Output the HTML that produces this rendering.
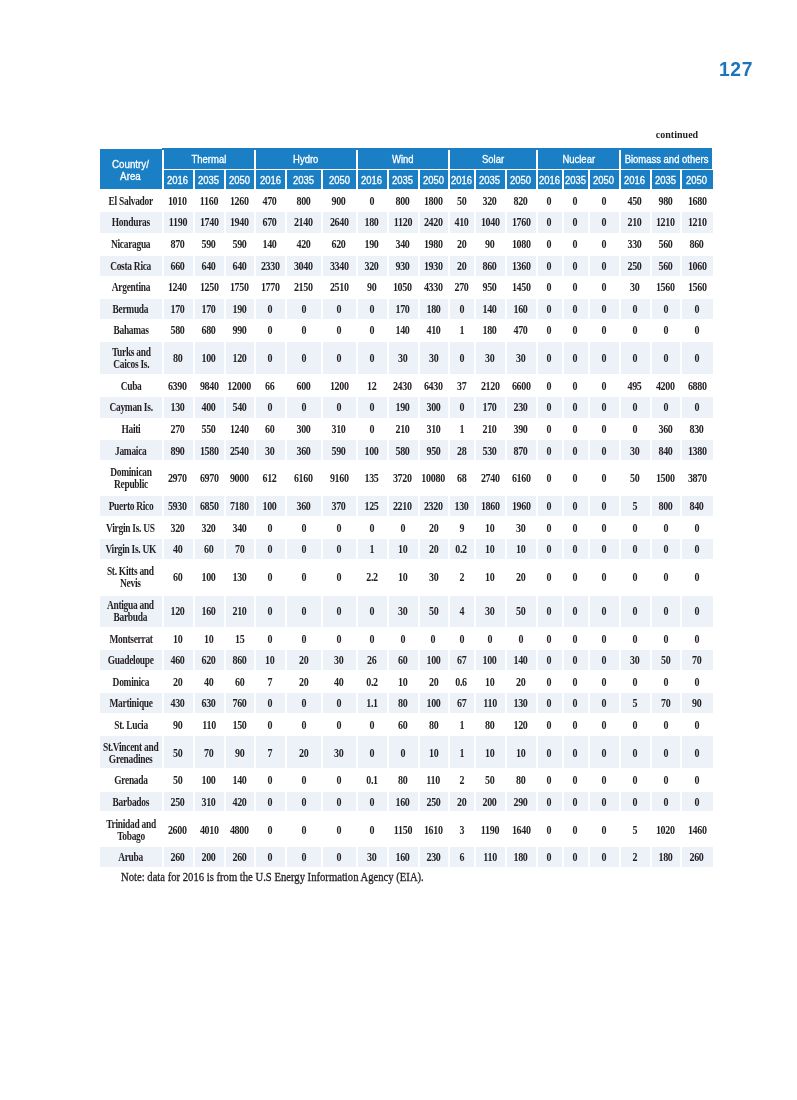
<!DOCTYPE html>
<html lang="en"><head><meta charset="utf-8"><title>Page 127</title>
<style>
html,body{margin:0;padding:0;background:#fff;}
body{width:797px;height:1100px;position:relative;overflow:hidden;font-family:"Liberation Serif",serif;color:#231f20;}
.c{position:absolute;display:flex;align-items:center;justify-content:center;text-align:center;white-space:nowrap;}
.h{background:#1a7fc4;color:#fff;-webkit-text-stroke:0.3px #fff;font-family:"Liberation Sans",sans-serif;font-size:10.3px;line-height:12px;}
.h span{display:inline-block;position:relative;transform:scaleX(.92);}
.d{font-size:12px;font-weight:bold;line-height:12px;}
.n{font-size:11.8px;}
.v span{left:-0.5px;}
.d span{display:inline-block;position:relative;letter-spacing:-.36px;padding-right:.36px;transform:scaleX(.835);}
.n span{transform:scaleX(.80);}
.s{background:#edf2f9;}
.pn{position:absolute;left:719px;top:59px;letter-spacing:.6px;font-family:"Liberation Sans",sans-serif;font-weight:bold;font-size:19.3px;line-height:22px;color:#1b75bc;}
.cont{position:absolute;left:640px;top:128px;width:74px;font-size:10.9px;font-weight:bold;line-height:13px;text-align:center;}
.cont span{display:inline-block;transform:scaleX(.92);}
.note{position:absolute;left:121px;top:870px;font-size:12.4px;-webkit-text-stroke:0.3px #231f20;line-height:14px;white-space:nowrap;}
.note span{display:inline-block;transform:scaleX(.859);transform-origin:0 50%;}
</style></head><body>
<div class="pn">127</div>
<div class="cont"><span>continued</span></div>
<div style="position:absolute;left:162px;top:147.9px;width:550.2px;height:2.1px;background:#1a7fc4"></div>
<div class="c h" style="left:100.00px;top:148.90px;width:61.90px;height:39.80px"><span style="transform:scaleX(.95);top:2.600px">Country/<br>Area</span></div>
<div class="c h" style="left:163.80px;top:148.40px;width:90.00px;height:20.30px"><span style="top:1.300px">Thermal</span></div>
<div class="c h" style="left:163.80px;top:170.30px;width:29.10px;height:18.40px"><span style="left:-0.95px;top:1.400px">2016</span></div>
<div class="c h" style="left:195.20px;top:170.30px;width:28.80px;height:18.40px"><span style="left:-1.10px;top:1.400px">2035</span></div>
<div class="c h" style="left:226.20px;top:170.30px;width:27.60px;height:18.40px"><span style="left:-0.60px;top:1.400px">2050</span></div>
<div class="c h" style="left:256.10px;top:148.40px;width:99.90px;height:20.30px"><span style="top:1.300px">Hydro</span></div>
<div class="c h" style="left:256.10px;top:170.30px;width:28.80px;height:18.40px"><span style="left:0.10px;top:1.400px">2016</span></div>
<div class="c h" style="left:287.20px;top:170.30px;width:33.70px;height:18.40px"><span style="left:-0.35px;top:1.400px">2035</span></div>
<div class="c h" style="left:323.20px;top:170.30px;width:32.80px;height:18.40px"><span style="left:-0.60px;top:1.400px">2050</span></div>
<div class="c h" style="left:358.10px;top:148.40px;width:89.75px;height:20.30px"><span style="top:1.300px">Wind</span></div>
<div class="c h" style="left:358.10px;top:170.30px;width:28.60px;height:18.40px"><span style="left:-0.80px;top:1.400px">2016</span></div>
<div class="c h" style="left:389.00px;top:170.30px;width:28.80px;height:18.40px"><span style="left:-0.70px;top:1.400px">2035</span></div>
<div class="c h" style="left:420.10px;top:170.30px;width:27.75px;height:18.40px"><span style="left:-0.50px;top:1.400px">2050</span></div>
<div class="c h" style="left:450.10px;top:148.40px;width:85.70px;height:20.30px"><span style="top:1.300px">Solar</span></div>
<div class="c h" style="left:450.10px;top:170.30px;width:23.85px;height:18.40px"><span style="left:-0.30px;top:1.400px">2016</span></div>
<div class="c h" style="left:476.20px;top:170.30px;width:28.65px;height:18.40px"><span style="left:-0.70px;top:1.400px">2035</span></div>
<div class="c h" style="left:507.15px;top:170.30px;width:28.65px;height:18.40px"><span style="left:-0.80px;top:1.400px">2050</span></div>
<div class="c h" style="left:538.00px;top:148.40px;width:80.90px;height:20.30px"><span style="top:1.300px">Nuclear</span></div>
<div class="c h" style="left:538.00px;top:170.30px;width:23.90px;height:18.40px"><span style="left:-0.20px;top:1.400px">2016</span></div>
<div class="c h" style="left:564.20px;top:170.30px;width:23.60px;height:18.40px"><span style="left:-0.10px;top:1.400px">2035</span></div>
<div class="c h" style="left:590.00px;top:170.30px;width:28.90px;height:18.40px"><span style="left:-0.80px;top:1.400px">2050</span></div>
<div class="c h" style="left:621.15px;top:148.40px;width:91.05px;height:20.30px"><span style="top:1.300px">Biomass and others</span></div>
<div class="c h" style="left:621.15px;top:170.30px;width:28.75px;height:18.40px"><span style="left:-0.80px;top:1.400px">2016</span></div>
<div class="c h" style="left:652.15px;top:170.30px;width:28.05px;height:18.40px"><span style="left:-0.50px;top:1.400px">2035</span></div>
<div class="c h" style="left:682.20px;top:170.30px;width:30.60px;height:18.40px"><span style="left:-1.00px;top:1.400px">2050</span></div>
<div class="c d n" style="left:100.00px;top:190.00px;width:61.90px;height:21.00px"><span style="top:0.500px">El Salvador</span></div>
<div class="c d v" style="left:163.80px;top:190.00px;width:29.10px;height:21.00px"><span style="top:0.500px">1010</span></div>
<div class="c d v" style="left:195.20px;top:190.00px;width:28.80px;height:21.00px"><span style="top:0.500px">1160</span></div>
<div class="c d v" style="left:226.20px;top:190.00px;width:27.60px;height:21.00px"><span style="top:0.500px">1260</span></div>
<div class="c d v" style="left:256.10px;top:190.00px;width:28.80px;height:21.00px"><span style="top:0.500px">470</span></div>
<div class="c d v" style="left:287.20px;top:190.00px;width:33.70px;height:21.00px"><span style="top:0.500px">800</span></div>
<div class="c d v" style="left:323.20px;top:190.00px;width:32.80px;height:21.00px"><span style="top:0.500px">900</span></div>
<div class="c d v" style="left:358.10px;top:190.00px;width:28.60px;height:21.00px"><span style="top:0.500px">0</span></div>
<div class="c d v" style="left:389.00px;top:190.00px;width:28.80px;height:21.00px"><span style="top:0.500px">800</span></div>
<div class="c d v" style="left:420.10px;top:190.00px;width:27.75px;height:21.00px"><span style="top:0.500px">1800</span></div>
<div class="c d v" style="left:450.10px;top:190.00px;width:23.85px;height:21.00px"><span style="top:0.500px">50</span></div>
<div class="c d v" style="left:476.20px;top:190.00px;width:28.65px;height:21.00px"><span style="top:0.500px">320</span></div>
<div class="c d v" style="left:507.15px;top:190.00px;width:28.65px;height:21.00px"><span style="top:0.500px">820</span></div>
<div class="c d v" style="left:538.00px;top:190.00px;width:23.90px;height:21.00px"><span style="top:0.500px">0</span></div>
<div class="c d v" style="left:564.20px;top:190.00px;width:23.60px;height:21.00px"><span style="top:0.500px">0</span></div>
<div class="c d v" style="left:590.00px;top:190.00px;width:28.90px;height:21.00px"><span style="top:0.500px">0</span></div>
<div class="c d v" style="left:621.15px;top:190.00px;width:28.75px;height:21.00px"><span style="top:0.500px">450</span></div>
<div class="c d v" style="left:652.15px;top:190.00px;width:28.05px;height:21.00px"><span style="top:0.500px">980</span></div>
<div class="c d v" style="left:682.20px;top:190.00px;width:30.60px;height:21.00px"><span style="top:0.500px">1680</span></div>
<div class="c d s n" style="left:100.00px;top:212.35px;width:61.90px;height:20.35px"><span style="top:-0.525px">Honduras</span></div>
<div class="c d s v" style="left:163.80px;top:212.35px;width:29.10px;height:20.35px"><span style="top:-0.525px">1190</span></div>
<div class="c d s v" style="left:195.20px;top:212.35px;width:28.80px;height:20.35px"><span style="top:-0.525px">1740</span></div>
<div class="c d s v" style="left:226.20px;top:212.35px;width:27.60px;height:20.35px"><span style="top:-0.525px">1940</span></div>
<div class="c d s v" style="left:256.10px;top:212.35px;width:28.80px;height:20.35px"><span style="top:-0.525px">670</span></div>
<div class="c d s v" style="left:287.20px;top:212.35px;width:33.70px;height:20.35px"><span style="top:-0.525px">2140</span></div>
<div class="c d s v" style="left:323.20px;top:212.35px;width:32.80px;height:20.35px"><span style="top:-0.525px">2640</span></div>
<div class="c d s v" style="left:358.10px;top:212.35px;width:28.60px;height:20.35px"><span style="top:-0.525px">180</span></div>
<div class="c d s v" style="left:389.00px;top:212.35px;width:28.80px;height:20.35px"><span style="top:-0.525px">1120</span></div>
<div class="c d s v" style="left:420.10px;top:212.35px;width:27.75px;height:20.35px"><span style="top:-0.525px">2420</span></div>
<div class="c d s v" style="left:450.10px;top:212.35px;width:23.85px;height:20.35px"><span style="top:-0.525px">410</span></div>
<div class="c d s v" style="left:476.20px;top:212.35px;width:28.65px;height:20.35px"><span style="top:-0.525px">1040</span></div>
<div class="c d s v" style="left:507.15px;top:212.35px;width:28.65px;height:20.35px"><span style="top:-0.525px">1760</span></div>
<div class="c d s v" style="left:538.00px;top:212.35px;width:23.90px;height:20.35px"><span style="top:-0.525px">0</span></div>
<div class="c d s v" style="left:564.20px;top:212.35px;width:23.60px;height:20.35px"><span style="top:-0.525px">0</span></div>
<div class="c d s v" style="left:590.00px;top:212.35px;width:28.90px;height:20.35px"><span style="top:-0.525px">0</span></div>
<div class="c d s v" style="left:621.15px;top:212.35px;width:28.75px;height:20.35px"><span style="top:-0.525px">210</span></div>
<div class="c d s v" style="left:652.15px;top:212.35px;width:28.05px;height:20.35px"><span style="top:-0.525px">1210</span></div>
<div class="c d s v" style="left:682.20px;top:212.35px;width:30.60px;height:20.35px"><span style="top:-0.525px">1210</span></div>
<div class="c d n" style="left:100.00px;top:234.00px;width:61.90px;height:20.20px"><span style="top:-0.100px">Nicaragua</span></div>
<div class="c d v" style="left:163.80px;top:234.00px;width:29.10px;height:20.20px"><span style="top:-0.100px">870</span></div>
<div class="c d v" style="left:195.20px;top:234.00px;width:28.80px;height:20.20px"><span style="top:-0.100px">590</span></div>
<div class="c d v" style="left:226.20px;top:234.00px;width:27.60px;height:20.20px"><span style="top:-0.100px">590</span></div>
<div class="c d v" style="left:256.10px;top:234.00px;width:28.80px;height:20.20px"><span style="top:-0.100px">140</span></div>
<div class="c d v" style="left:287.20px;top:234.00px;width:33.70px;height:20.20px"><span style="top:-0.100px">420</span></div>
<div class="c d v" style="left:323.20px;top:234.00px;width:32.80px;height:20.20px"><span style="top:-0.100px">620</span></div>
<div class="c d v" style="left:358.10px;top:234.00px;width:28.60px;height:20.20px"><span style="top:-0.100px">190</span></div>
<div class="c d v" style="left:389.00px;top:234.00px;width:28.80px;height:20.20px"><span style="top:-0.100px">340</span></div>
<div class="c d v" style="left:420.10px;top:234.00px;width:27.75px;height:20.20px"><span style="top:-0.100px">1980</span></div>
<div class="c d v" style="left:450.10px;top:234.00px;width:23.85px;height:20.20px"><span style="top:-0.100px">20</span></div>
<div class="c d v" style="left:476.20px;top:234.00px;width:28.65px;height:20.20px"><span style="top:-0.100px">90</span></div>
<div class="c d v" style="left:507.15px;top:234.00px;width:28.65px;height:20.20px"><span style="top:-0.100px">1080</span></div>
<div class="c d v" style="left:538.00px;top:234.00px;width:23.90px;height:20.20px"><span style="top:-0.100px">0</span></div>
<div class="c d v" style="left:564.20px;top:234.00px;width:23.60px;height:20.20px"><span style="top:-0.100px">0</span></div>
<div class="c d v" style="left:590.00px;top:234.00px;width:28.90px;height:20.20px"><span style="top:-0.100px">0</span></div>
<div class="c d v" style="left:621.15px;top:234.00px;width:28.75px;height:20.20px"><span style="top:-0.100px">330</span></div>
<div class="c d v" style="left:652.15px;top:234.00px;width:28.05px;height:20.20px"><span style="top:-0.100px">560</span></div>
<div class="c d v" style="left:682.20px;top:234.00px;width:30.60px;height:20.20px"><span style="top:-0.100px">860</span></div>
<div class="c d s n" style="left:100.00px;top:255.50px;width:61.90px;height:20.10px"><span style="top:0.450px">Costa Rica</span></div>
<div class="c d s v" style="left:163.80px;top:255.50px;width:29.10px;height:20.10px"><span style="top:0.450px">660</span></div>
<div class="c d s v" style="left:195.20px;top:255.50px;width:28.80px;height:20.10px"><span style="top:0.450px">640</span></div>
<div class="c d s v" style="left:226.20px;top:255.50px;width:27.60px;height:20.10px"><span style="top:0.450px">640</span></div>
<div class="c d s v" style="left:256.10px;top:255.50px;width:28.80px;height:20.10px"><span style="top:0.450px">2330</span></div>
<div class="c d s v" style="left:287.20px;top:255.50px;width:33.70px;height:20.10px"><span style="top:0.450px">3040</span></div>
<div class="c d s v" style="left:323.20px;top:255.50px;width:32.80px;height:20.10px"><span style="top:0.450px">3340</span></div>
<div class="c d s v" style="left:358.10px;top:255.50px;width:28.60px;height:20.10px"><span style="top:0.450px">320</span></div>
<div class="c d s v" style="left:389.00px;top:255.50px;width:28.80px;height:20.10px"><span style="top:0.450px">930</span></div>
<div class="c d s v" style="left:420.10px;top:255.50px;width:27.75px;height:20.10px"><span style="top:0.450px">1930</span></div>
<div class="c d s v" style="left:450.10px;top:255.50px;width:23.85px;height:20.10px"><span style="top:0.450px">20</span></div>
<div class="c d s v" style="left:476.20px;top:255.50px;width:28.65px;height:20.10px"><span style="top:0.450px">860</span></div>
<div class="c d s v" style="left:507.15px;top:255.50px;width:28.65px;height:20.10px"><span style="top:0.450px">1360</span></div>
<div class="c d s v" style="left:538.00px;top:255.50px;width:23.90px;height:20.10px"><span style="top:0.450px">0</span></div>
<div class="c d s v" style="left:564.20px;top:255.50px;width:23.60px;height:20.10px"><span style="top:0.450px">0</span></div>
<div class="c d s v" style="left:590.00px;top:255.50px;width:28.90px;height:20.10px"><span style="top:0.450px">0</span></div>
<div class="c d s v" style="left:621.15px;top:255.50px;width:28.75px;height:20.10px"><span style="top:0.450px">250</span></div>
<div class="c d s v" style="left:652.15px;top:255.50px;width:28.05px;height:20.10px"><span style="top:0.450px">560</span></div>
<div class="c d s v" style="left:682.20px;top:255.50px;width:30.60px;height:20.10px"><span style="top:0.450px">1060</span></div>
<div class="c d n" style="left:100.00px;top:277.00px;width:61.90px;height:20.20px"><span style="top:-0.100px">Argentina</span></div>
<div class="c d v" style="left:163.80px;top:277.00px;width:29.10px;height:20.20px"><span style="top:-0.100px">1240</span></div>
<div class="c d v" style="left:195.20px;top:277.00px;width:28.80px;height:20.20px"><span style="top:-0.100px">1250</span></div>
<div class="c d v" style="left:226.20px;top:277.00px;width:27.60px;height:20.20px"><span style="top:-0.100px">1750</span></div>
<div class="c d v" style="left:256.10px;top:277.00px;width:28.80px;height:20.20px"><span style="top:-0.100px">1770</span></div>
<div class="c d v" style="left:287.20px;top:277.00px;width:33.70px;height:20.20px"><span style="top:-0.100px">2150</span></div>
<div class="c d v" style="left:323.20px;top:277.00px;width:32.80px;height:20.20px"><span style="top:-0.100px">2510</span></div>
<div class="c d v" style="left:358.10px;top:277.00px;width:28.60px;height:20.20px"><span style="top:-0.100px">90</span></div>
<div class="c d v" style="left:389.00px;top:277.00px;width:28.80px;height:20.20px"><span style="top:-0.100px">1050</span></div>
<div class="c d v" style="left:420.10px;top:277.00px;width:27.75px;height:20.20px"><span style="top:-0.100px">4330</span></div>
<div class="c d v" style="left:450.10px;top:277.00px;width:23.85px;height:20.20px"><span style="top:-0.100px">270</span></div>
<div class="c d v" style="left:476.20px;top:277.00px;width:28.65px;height:20.20px"><span style="top:-0.100px">950</span></div>
<div class="c d v" style="left:507.15px;top:277.00px;width:28.65px;height:20.20px"><span style="top:-0.100px">1450</span></div>
<div class="c d v" style="left:538.00px;top:277.00px;width:23.90px;height:20.20px"><span style="top:-0.100px">0</span></div>
<div class="c d v" style="left:564.20px;top:277.00px;width:23.60px;height:20.20px"><span style="top:-0.100px">0</span></div>
<div class="c d v" style="left:590.00px;top:277.00px;width:28.90px;height:20.20px"><span style="top:-0.100px">0</span></div>
<div class="c d v" style="left:621.15px;top:277.00px;width:28.75px;height:20.20px"><span style="top:-0.100px">30</span></div>
<div class="c d v" style="left:652.15px;top:277.00px;width:28.05px;height:20.20px"><span style="top:-0.100px">1560</span></div>
<div class="c d v" style="left:682.20px;top:277.00px;width:30.60px;height:20.20px"><span style="top:-0.100px">1560</span></div>
<div class="c d s n" style="left:100.00px;top:298.50px;width:61.90px;height:20.20px"><span style="top:0.400px">Bermuda</span></div>
<div class="c d s v" style="left:163.80px;top:298.50px;width:29.10px;height:20.20px"><span style="top:0.400px">170</span></div>
<div class="c d s v" style="left:195.20px;top:298.50px;width:28.80px;height:20.20px"><span style="top:0.400px">170</span></div>
<div class="c d s v" style="left:226.20px;top:298.50px;width:27.60px;height:20.20px"><span style="top:0.400px">190</span></div>
<div class="c d s v" style="left:256.10px;top:298.50px;width:28.80px;height:20.20px"><span style="top:0.400px">0</span></div>
<div class="c d s v" style="left:287.20px;top:298.50px;width:33.70px;height:20.20px"><span style="top:0.400px">0</span></div>
<div class="c d s v" style="left:323.20px;top:298.50px;width:32.80px;height:20.20px"><span style="top:0.400px">0</span></div>
<div class="c d s v" style="left:358.10px;top:298.50px;width:28.60px;height:20.20px"><span style="top:0.400px">0</span></div>
<div class="c d s v" style="left:389.00px;top:298.50px;width:28.80px;height:20.20px"><span style="top:0.400px">170</span></div>
<div class="c d s v" style="left:420.10px;top:298.50px;width:27.75px;height:20.20px"><span style="top:0.400px">180</span></div>
<div class="c d s v" style="left:450.10px;top:298.50px;width:23.85px;height:20.20px"><span style="top:0.400px">0</span></div>
<div class="c d s v" style="left:476.20px;top:298.50px;width:28.65px;height:20.20px"><span style="top:0.400px">140</span></div>
<div class="c d s v" style="left:507.15px;top:298.50px;width:28.65px;height:20.20px"><span style="top:0.400px">160</span></div>
<div class="c d s v" style="left:538.00px;top:298.50px;width:23.90px;height:20.20px"><span style="top:0.400px">0</span></div>
<div class="c d s v" style="left:564.20px;top:298.50px;width:23.60px;height:20.20px"><span style="top:0.400px">0</span></div>
<div class="c d s v" style="left:590.00px;top:298.50px;width:28.90px;height:20.20px"><span style="top:0.400px">0</span></div>
<div class="c d s v" style="left:621.15px;top:298.50px;width:28.75px;height:20.20px"><span style="top:0.400px">0</span></div>
<div class="c d s v" style="left:652.15px;top:298.50px;width:28.05px;height:20.20px"><span style="top:0.400px">0</span></div>
<div class="c d s v" style="left:682.20px;top:298.50px;width:30.60px;height:20.20px"><span style="top:0.400px">0</span></div>
<div class="c d n" style="left:100.00px;top:320.00px;width:61.90px;height:21.00px"><span style="top:-0.500px">Bahamas</span></div>
<div class="c d v" style="left:163.80px;top:320.00px;width:29.10px;height:21.00px"><span style="top:-0.500px">580</span></div>
<div class="c d v" style="left:195.20px;top:320.00px;width:28.80px;height:21.00px"><span style="top:-0.500px">680</span></div>
<div class="c d v" style="left:226.20px;top:320.00px;width:27.60px;height:21.00px"><span style="top:-0.500px">990</span></div>
<div class="c d v" style="left:256.10px;top:320.00px;width:28.80px;height:21.00px"><span style="top:-0.500px">0</span></div>
<div class="c d v" style="left:287.20px;top:320.00px;width:33.70px;height:21.00px"><span style="top:-0.500px">0</span></div>
<div class="c d v" style="left:323.20px;top:320.00px;width:32.80px;height:21.00px"><span style="top:-0.500px">0</span></div>
<div class="c d v" style="left:358.10px;top:320.00px;width:28.60px;height:21.00px"><span style="top:-0.500px">0</span></div>
<div class="c d v" style="left:389.00px;top:320.00px;width:28.80px;height:21.00px"><span style="top:-0.500px">140</span></div>
<div class="c d v" style="left:420.10px;top:320.00px;width:27.75px;height:21.00px"><span style="top:-0.500px">410</span></div>
<div class="c d v" style="left:450.10px;top:320.00px;width:23.85px;height:21.00px"><span style="top:-0.500px">1</span></div>
<div class="c d v" style="left:476.20px;top:320.00px;width:28.65px;height:21.00px"><span style="top:-0.500px">180</span></div>
<div class="c d v" style="left:507.15px;top:320.00px;width:28.65px;height:21.00px"><span style="top:-0.500px">470</span></div>
<div class="c d v" style="left:538.00px;top:320.00px;width:23.90px;height:21.00px"><span style="top:-0.500px">0</span></div>
<div class="c d v" style="left:564.20px;top:320.00px;width:23.60px;height:21.00px"><span style="top:-0.500px">0</span></div>
<div class="c d v" style="left:590.00px;top:320.00px;width:28.90px;height:21.00px"><span style="top:-0.500px">0</span></div>
<div class="c d v" style="left:621.15px;top:320.00px;width:28.75px;height:21.00px"><span style="top:-0.500px">0</span></div>
<div class="c d v" style="left:652.15px;top:320.00px;width:28.05px;height:21.00px"><span style="top:-0.500px">0</span></div>
<div class="c d v" style="left:682.20px;top:320.00px;width:30.60px;height:21.00px"><span style="top:-0.500px">0</span></div>
<div class="c d s n" style="left:100.00px;top:342.35px;width:61.90px;height:31.35px"><span style="top:-0.025px">Turks and<br>Caicos Is.</span></div>
<div class="c d s v" style="left:163.80px;top:342.35px;width:29.10px;height:31.35px"><span style="top:-0.025px">80</span></div>
<div class="c d s v" style="left:195.20px;top:342.35px;width:28.80px;height:31.35px"><span style="top:-0.025px">100</span></div>
<div class="c d s v" style="left:226.20px;top:342.35px;width:27.60px;height:31.35px"><span style="top:-0.025px">120</span></div>
<div class="c d s v" style="left:256.10px;top:342.35px;width:28.80px;height:31.35px"><span style="top:-0.025px">0</span></div>
<div class="c d s v" style="left:287.20px;top:342.35px;width:33.70px;height:31.35px"><span style="top:-0.025px">0</span></div>
<div class="c d s v" style="left:323.20px;top:342.35px;width:32.80px;height:31.35px"><span style="top:-0.025px">0</span></div>
<div class="c d s v" style="left:358.10px;top:342.35px;width:28.60px;height:31.35px"><span style="top:-0.025px">0</span></div>
<div class="c d s v" style="left:389.00px;top:342.35px;width:28.80px;height:31.35px"><span style="top:-0.025px">30</span></div>
<div class="c d s v" style="left:420.10px;top:342.35px;width:27.75px;height:31.35px"><span style="top:-0.025px">30</span></div>
<div class="c d s v" style="left:450.10px;top:342.35px;width:23.85px;height:31.35px"><span style="top:-0.025px">0</span></div>
<div class="c d s v" style="left:476.20px;top:342.35px;width:28.65px;height:31.35px"><span style="top:-0.025px">30</span></div>
<div class="c d s v" style="left:507.15px;top:342.35px;width:28.65px;height:31.35px"><span style="top:-0.025px">30</span></div>
<div class="c d s v" style="left:538.00px;top:342.35px;width:23.90px;height:31.35px"><span style="top:-0.025px">0</span></div>
<div class="c d s v" style="left:564.20px;top:342.35px;width:23.60px;height:31.35px"><span style="top:-0.025px">0</span></div>
<div class="c d s v" style="left:590.00px;top:342.35px;width:28.90px;height:31.35px"><span style="top:-0.025px">0</span></div>
<div class="c d s v" style="left:621.15px;top:342.35px;width:28.75px;height:31.35px"><span style="top:-0.025px">0</span></div>
<div class="c d s v" style="left:652.15px;top:342.35px;width:28.05px;height:31.35px"><span style="top:-0.025px">0</span></div>
<div class="c d s v" style="left:682.20px;top:342.35px;width:30.60px;height:31.35px"><span style="top:-0.025px">0</span></div>
<div class="c d n" style="left:100.00px;top:375.00px;width:61.90px;height:21.00px"><span style="top:0.500px">Cuba</span></div>
<div class="c d v" style="left:163.80px;top:375.00px;width:29.10px;height:21.00px"><span style="top:0.500px">6390</span></div>
<div class="c d v" style="left:195.20px;top:375.00px;width:28.80px;height:21.00px"><span style="top:0.500px">9840</span></div>
<div class="c d v" style="left:226.20px;top:375.00px;width:27.60px;height:21.00px"><span style="top:0.500px">12000</span></div>
<div class="c d v" style="left:256.10px;top:375.00px;width:28.80px;height:21.00px"><span style="top:0.500px">66</span></div>
<div class="c d v" style="left:287.20px;top:375.00px;width:33.70px;height:21.00px"><span style="top:0.500px">600</span></div>
<div class="c d v" style="left:323.20px;top:375.00px;width:32.80px;height:21.00px"><span style="top:0.500px">1200</span></div>
<div class="c d v" style="left:358.10px;top:375.00px;width:28.60px;height:21.00px"><span style="top:0.500px">12</span></div>
<div class="c d v" style="left:389.00px;top:375.00px;width:28.80px;height:21.00px"><span style="top:0.500px">2430</span></div>
<div class="c d v" style="left:420.10px;top:375.00px;width:27.75px;height:21.00px"><span style="top:0.500px">6430</span></div>
<div class="c d v" style="left:450.10px;top:375.00px;width:23.85px;height:21.00px"><span style="top:0.500px">37</span></div>
<div class="c d v" style="left:476.20px;top:375.00px;width:28.65px;height:21.00px"><span style="top:0.500px">2120</span></div>
<div class="c d v" style="left:507.15px;top:375.00px;width:28.65px;height:21.00px"><span style="top:0.500px">6600</span></div>
<div class="c d v" style="left:538.00px;top:375.00px;width:23.90px;height:21.00px"><span style="top:0.500px">0</span></div>
<div class="c d v" style="left:564.20px;top:375.00px;width:23.60px;height:21.00px"><span style="top:0.500px">0</span></div>
<div class="c d v" style="left:590.00px;top:375.00px;width:28.90px;height:21.00px"><span style="top:0.500px">0</span></div>
<div class="c d v" style="left:621.15px;top:375.00px;width:28.75px;height:21.00px"><span style="top:0.500px">495</span></div>
<div class="c d v" style="left:652.15px;top:375.00px;width:28.05px;height:21.00px"><span style="top:0.500px">4200</span></div>
<div class="c d v" style="left:682.20px;top:375.00px;width:30.60px;height:21.00px"><span style="top:0.500px">6880</span></div>
<div class="c d s n" style="left:100.00px;top:397.20px;width:61.90px;height:20.40px"><span style="top:-0.400px">Cayman Is.</span></div>
<div class="c d s v" style="left:163.80px;top:397.20px;width:29.10px;height:20.40px"><span style="top:-0.400px">130</span></div>
<div class="c d s v" style="left:195.20px;top:397.20px;width:28.80px;height:20.40px"><span style="top:-0.400px">400</span></div>
<div class="c d s v" style="left:226.20px;top:397.20px;width:27.60px;height:20.40px"><span style="top:-0.400px">540</span></div>
<div class="c d s v" style="left:256.10px;top:397.20px;width:28.80px;height:20.40px"><span style="top:-0.400px">0</span></div>
<div class="c d s v" style="left:287.20px;top:397.20px;width:33.70px;height:20.40px"><span style="top:-0.400px">0</span></div>
<div class="c d s v" style="left:323.20px;top:397.20px;width:32.80px;height:20.40px"><span style="top:-0.400px">0</span></div>
<div class="c d s v" style="left:358.10px;top:397.20px;width:28.60px;height:20.40px"><span style="top:-0.400px">0</span></div>
<div class="c d s v" style="left:389.00px;top:397.20px;width:28.80px;height:20.40px"><span style="top:-0.400px">190</span></div>
<div class="c d s v" style="left:420.10px;top:397.20px;width:27.75px;height:20.40px"><span style="top:-0.400px">300</span></div>
<div class="c d s v" style="left:450.10px;top:397.20px;width:23.85px;height:20.40px"><span style="top:-0.400px">0</span></div>
<div class="c d s v" style="left:476.20px;top:397.20px;width:28.65px;height:20.40px"><span style="top:-0.400px">170</span></div>
<div class="c d s v" style="left:507.15px;top:397.20px;width:28.65px;height:20.40px"><span style="top:-0.400px">230</span></div>
<div class="c d s v" style="left:538.00px;top:397.20px;width:23.90px;height:20.40px"><span style="top:-0.400px">0</span></div>
<div class="c d s v" style="left:564.20px;top:397.20px;width:23.60px;height:20.40px"><span style="top:-0.400px">0</span></div>
<div class="c d s v" style="left:590.00px;top:397.20px;width:28.90px;height:20.40px"><span style="top:-0.400px">0</span></div>
<div class="c d s v" style="left:621.15px;top:397.20px;width:28.75px;height:20.40px"><span style="top:-0.400px">0</span></div>
<div class="c d s v" style="left:652.15px;top:397.20px;width:28.05px;height:20.40px"><span style="top:-0.400px">0</span></div>
<div class="c d s v" style="left:682.20px;top:397.20px;width:30.60px;height:20.40px"><span style="top:-0.400px">0</span></div>
<div class="c d n" style="left:100.00px;top:419.00px;width:61.90px;height:19.70px"><span style="top:0.150px">Haiti</span></div>
<div class="c d v" style="left:163.80px;top:419.00px;width:29.10px;height:19.70px"><span style="top:0.150px">270</span></div>
<div class="c d v" style="left:195.20px;top:419.00px;width:28.80px;height:19.70px"><span style="top:0.150px">550</span></div>
<div class="c d v" style="left:226.20px;top:419.00px;width:27.60px;height:19.70px"><span style="top:0.150px">1240</span></div>
<div class="c d v" style="left:256.10px;top:419.00px;width:28.80px;height:19.70px"><span style="top:0.150px">60</span></div>
<div class="c d v" style="left:287.20px;top:419.00px;width:33.70px;height:19.70px"><span style="top:0.150px">300</span></div>
<div class="c d v" style="left:323.20px;top:419.00px;width:32.80px;height:19.70px"><span style="top:0.150px">310</span></div>
<div class="c d v" style="left:358.10px;top:419.00px;width:28.60px;height:19.70px"><span style="top:0.150px">0</span></div>
<div class="c d v" style="left:389.00px;top:419.00px;width:28.80px;height:19.70px"><span style="top:0.150px">210</span></div>
<div class="c d v" style="left:420.10px;top:419.00px;width:27.75px;height:19.70px"><span style="top:0.150px">310</span></div>
<div class="c d v" style="left:450.10px;top:419.00px;width:23.85px;height:19.70px"><span style="top:0.150px">1</span></div>
<div class="c d v" style="left:476.20px;top:419.00px;width:28.65px;height:19.70px"><span style="top:0.150px">210</span></div>
<div class="c d v" style="left:507.15px;top:419.00px;width:28.65px;height:19.70px"><span style="top:0.150px">390</span></div>
<div class="c d v" style="left:538.00px;top:419.00px;width:23.90px;height:19.70px"><span style="top:0.150px">0</span></div>
<div class="c d v" style="left:564.20px;top:419.00px;width:23.60px;height:19.70px"><span style="top:0.150px">0</span></div>
<div class="c d v" style="left:590.00px;top:419.00px;width:28.90px;height:19.70px"><span style="top:0.150px">0</span></div>
<div class="c d v" style="left:621.15px;top:419.00px;width:28.75px;height:19.70px"><span style="top:0.150px">0</span></div>
<div class="c d v" style="left:652.15px;top:419.00px;width:28.05px;height:19.70px"><span style="top:0.150px">360</span></div>
<div class="c d v" style="left:682.20px;top:419.00px;width:30.60px;height:19.70px"><span style="top:0.150px">830</span></div>
<div class="c d s n" style="left:100.00px;top:440.00px;width:61.90px;height:20.40px"><span style="top:0.800px">Jamaica</span></div>
<div class="c d s v" style="left:163.80px;top:440.00px;width:29.10px;height:20.40px"><span style="top:0.800px">890</span></div>
<div class="c d s v" style="left:195.20px;top:440.00px;width:28.80px;height:20.40px"><span style="top:0.800px">1580</span></div>
<div class="c d s v" style="left:226.20px;top:440.00px;width:27.60px;height:20.40px"><span style="top:0.800px">2540</span></div>
<div class="c d s v" style="left:256.10px;top:440.00px;width:28.80px;height:20.40px"><span style="top:0.800px">30</span></div>
<div class="c d s v" style="left:287.20px;top:440.00px;width:33.70px;height:20.40px"><span style="top:0.800px">360</span></div>
<div class="c d s v" style="left:323.20px;top:440.00px;width:32.80px;height:20.40px"><span style="top:0.800px">590</span></div>
<div class="c d s v" style="left:358.10px;top:440.00px;width:28.60px;height:20.40px"><span style="top:0.800px">100</span></div>
<div class="c d s v" style="left:389.00px;top:440.00px;width:28.80px;height:20.40px"><span style="top:0.800px">580</span></div>
<div class="c d s v" style="left:420.10px;top:440.00px;width:27.75px;height:20.40px"><span style="top:0.800px">950</span></div>
<div class="c d s v" style="left:450.10px;top:440.00px;width:23.85px;height:20.40px"><span style="top:0.800px">28</span></div>
<div class="c d s v" style="left:476.20px;top:440.00px;width:28.65px;height:20.40px"><span style="top:0.800px">530</span></div>
<div class="c d s v" style="left:507.15px;top:440.00px;width:28.65px;height:20.40px"><span style="top:0.800px">870</span></div>
<div class="c d s v" style="left:538.00px;top:440.00px;width:23.90px;height:20.40px"><span style="top:0.800px">0</span></div>
<div class="c d s v" style="left:564.20px;top:440.00px;width:23.60px;height:20.40px"><span style="top:0.800px">0</span></div>
<div class="c d s v" style="left:590.00px;top:440.00px;width:28.90px;height:20.40px"><span style="top:0.800px">0</span></div>
<div class="c d s v" style="left:621.15px;top:440.00px;width:28.75px;height:20.40px"><span style="top:0.800px">30</span></div>
<div class="c d s v" style="left:652.15px;top:440.00px;width:28.05px;height:20.40px"><span style="top:0.800px">840</span></div>
<div class="c d s v" style="left:682.20px;top:440.00px;width:30.60px;height:20.40px"><span style="top:0.800px">1380</span></div>
<div class="c d n" style="left:100.00px;top:461.70px;width:61.90px;height:32.90px"><span style="top:-0.150px">Dominican<br>Republic</span></div>
<div class="c d v" style="left:163.80px;top:461.70px;width:29.10px;height:32.90px"><span style="top:-0.150px">2970</span></div>
<div class="c d v" style="left:195.20px;top:461.70px;width:28.80px;height:32.90px"><span style="top:-0.150px">6970</span></div>
<div class="c d v" style="left:226.20px;top:461.70px;width:27.60px;height:32.90px"><span style="top:-0.150px">9000</span></div>
<div class="c d v" style="left:256.10px;top:461.70px;width:28.80px;height:32.90px"><span style="top:-0.150px">612</span></div>
<div class="c d v" style="left:287.20px;top:461.70px;width:33.70px;height:32.90px"><span style="top:-0.150px">6160</span></div>
<div class="c d v" style="left:323.20px;top:461.70px;width:32.80px;height:32.90px"><span style="top:-0.150px">9160</span></div>
<div class="c d v" style="left:358.10px;top:461.70px;width:28.60px;height:32.90px"><span style="top:-0.150px">135</span></div>
<div class="c d v" style="left:389.00px;top:461.70px;width:28.80px;height:32.90px"><span style="top:-0.150px">3720</span></div>
<div class="c d v" style="left:420.10px;top:461.70px;width:27.75px;height:32.90px"><span style="top:-0.150px">10080</span></div>
<div class="c d v" style="left:450.10px;top:461.70px;width:23.85px;height:32.90px"><span style="top:-0.150px">68</span></div>
<div class="c d v" style="left:476.20px;top:461.70px;width:28.65px;height:32.90px"><span style="top:-0.150px">2740</span></div>
<div class="c d v" style="left:507.15px;top:461.70px;width:28.65px;height:32.90px"><span style="top:-0.150px">6160</span></div>
<div class="c d v" style="left:538.00px;top:461.70px;width:23.90px;height:32.90px"><span style="top:-0.150px">0</span></div>
<div class="c d v" style="left:564.20px;top:461.70px;width:23.60px;height:32.90px"><span style="top:-0.150px">0</span></div>
<div class="c d v" style="left:590.00px;top:461.70px;width:28.90px;height:32.90px"><span style="top:-0.150px">0</span></div>
<div class="c d v" style="left:621.15px;top:461.70px;width:28.75px;height:32.90px"><span style="top:-0.150px">50</span></div>
<div class="c d v" style="left:652.15px;top:461.70px;width:28.05px;height:32.90px"><span style="top:-0.150px">1500</span></div>
<div class="c d v" style="left:682.20px;top:461.70px;width:30.60px;height:32.90px"><span style="top:-0.150px">3870</span></div>
<div class="c d s n" style="left:100.00px;top:495.90px;width:61.90px;height:20.10px"><span style="top:0.050px">Puerto Rico</span></div>
<div class="c d s v" style="left:163.80px;top:495.90px;width:29.10px;height:20.10px"><span style="top:0.050px">5930</span></div>
<div class="c d s v" style="left:195.20px;top:495.90px;width:28.80px;height:20.10px"><span style="top:0.050px">6850</span></div>
<div class="c d s v" style="left:226.20px;top:495.90px;width:27.60px;height:20.10px"><span style="top:0.050px">7180</span></div>
<div class="c d s v" style="left:256.10px;top:495.90px;width:28.80px;height:20.10px"><span style="top:0.050px">100</span></div>
<div class="c d s v" style="left:287.20px;top:495.90px;width:33.70px;height:20.10px"><span style="top:0.050px">360</span></div>
<div class="c d s v" style="left:323.20px;top:495.90px;width:32.80px;height:20.10px"><span style="top:0.050px">370</span></div>
<div class="c d s v" style="left:358.10px;top:495.90px;width:28.60px;height:20.10px"><span style="top:0.050px">125</span></div>
<div class="c d s v" style="left:389.00px;top:495.90px;width:28.80px;height:20.10px"><span style="top:0.050px">2210</span></div>
<div class="c d s v" style="left:420.10px;top:495.90px;width:27.75px;height:20.10px"><span style="top:0.050px">2320</span></div>
<div class="c d s v" style="left:450.10px;top:495.90px;width:23.85px;height:20.10px"><span style="top:0.050px">130</span></div>
<div class="c d s v" style="left:476.20px;top:495.90px;width:28.65px;height:20.10px"><span style="top:0.050px">1860</span></div>
<div class="c d s v" style="left:507.15px;top:495.90px;width:28.65px;height:20.10px"><span style="top:0.050px">1960</span></div>
<div class="c d s v" style="left:538.00px;top:495.90px;width:23.90px;height:20.10px"><span style="top:0.050px">0</span></div>
<div class="c d s v" style="left:564.20px;top:495.90px;width:23.60px;height:20.10px"><span style="top:0.050px">0</span></div>
<div class="c d s v" style="left:590.00px;top:495.90px;width:28.90px;height:20.10px"><span style="top:0.050px">0</span></div>
<div class="c d s v" style="left:621.15px;top:495.90px;width:28.75px;height:20.10px"><span style="top:0.050px">5</span></div>
<div class="c d s v" style="left:652.15px;top:495.90px;width:28.05px;height:20.10px"><span style="top:0.050px">800</span></div>
<div class="c d s v" style="left:682.20px;top:495.90px;width:30.60px;height:20.10px"><span style="top:0.050px">840</span></div>
<div class="c d n" style="left:100.00px;top:517.40px;width:61.90px;height:20.20px"><span style="top:0.500px">Virgin Is. US</span></div>
<div class="c d v" style="left:163.80px;top:517.40px;width:29.10px;height:20.20px"><span style="top:0.500px">320</span></div>
<div class="c d v" style="left:195.20px;top:517.40px;width:28.80px;height:20.20px"><span style="top:0.500px">320</span></div>
<div class="c d v" style="left:226.20px;top:517.40px;width:27.60px;height:20.20px"><span style="top:0.500px">340</span></div>
<div class="c d v" style="left:256.10px;top:517.40px;width:28.80px;height:20.20px"><span style="top:0.500px">0</span></div>
<div class="c d v" style="left:287.20px;top:517.40px;width:33.70px;height:20.20px"><span style="top:0.500px">0</span></div>
<div class="c d v" style="left:323.20px;top:517.40px;width:32.80px;height:20.20px"><span style="top:0.500px">0</span></div>
<div class="c d v" style="left:358.10px;top:517.40px;width:28.60px;height:20.20px"><span style="top:0.500px">0</span></div>
<div class="c d v" style="left:389.00px;top:517.40px;width:28.80px;height:20.20px"><span style="top:0.500px">0</span></div>
<div class="c d v" style="left:420.10px;top:517.40px;width:27.75px;height:20.20px"><span style="top:0.500px">20</span></div>
<div class="c d v" style="left:450.10px;top:517.40px;width:23.85px;height:20.20px"><span style="top:0.500px">9</span></div>
<div class="c d v" style="left:476.20px;top:517.40px;width:28.65px;height:20.20px"><span style="top:0.500px">10</span></div>
<div class="c d v" style="left:507.15px;top:517.40px;width:28.65px;height:20.20px"><span style="top:0.500px">30</span></div>
<div class="c d v" style="left:538.00px;top:517.40px;width:23.90px;height:20.20px"><span style="top:0.500px">0</span></div>
<div class="c d v" style="left:564.20px;top:517.40px;width:23.60px;height:20.20px"><span style="top:0.500px">0</span></div>
<div class="c d v" style="left:590.00px;top:517.40px;width:28.90px;height:20.20px"><span style="top:0.500px">0</span></div>
<div class="c d v" style="left:621.15px;top:517.40px;width:28.75px;height:20.20px"><span style="top:0.500px">0</span></div>
<div class="c d v" style="left:652.15px;top:517.40px;width:28.05px;height:20.20px"><span style="top:0.500px">0</span></div>
<div class="c d v" style="left:682.20px;top:517.40px;width:30.60px;height:20.20px"><span style="top:0.500px">0</span></div>
<div class="c d s n" style="left:100.00px;top:538.90px;width:61.90px;height:20.10px"><span style="top:0.050px">Virgin Is. UK</span></div>
<div class="c d s v" style="left:163.80px;top:538.90px;width:29.10px;height:20.10px"><span style="top:0.050px">40</span></div>
<div class="c d s v" style="left:195.20px;top:538.90px;width:28.80px;height:20.10px"><span style="top:0.050px">60</span></div>
<div class="c d s v" style="left:226.20px;top:538.90px;width:27.60px;height:20.10px"><span style="top:0.050px">70</span></div>
<div class="c d s v" style="left:256.10px;top:538.90px;width:28.80px;height:20.10px"><span style="top:0.050px">0</span></div>
<div class="c d s v" style="left:287.20px;top:538.90px;width:33.70px;height:20.10px"><span style="top:0.050px">0</span></div>
<div class="c d s v" style="left:323.20px;top:538.90px;width:32.80px;height:20.10px"><span style="top:0.050px">0</span></div>
<div class="c d s v" style="left:358.10px;top:538.90px;width:28.60px;height:20.10px"><span style="top:0.050px">1</span></div>
<div class="c d s v" style="left:389.00px;top:538.90px;width:28.80px;height:20.10px"><span style="top:0.050px">10</span></div>
<div class="c d s v" style="left:420.10px;top:538.90px;width:27.75px;height:20.10px"><span style="top:0.050px">20</span></div>
<div class="c d s v" style="left:450.10px;top:538.90px;width:23.85px;height:20.10px"><span style="top:0.050px">0.2</span></div>
<div class="c d s v" style="left:476.20px;top:538.90px;width:28.65px;height:20.10px"><span style="top:0.050px">10</span></div>
<div class="c d s v" style="left:507.15px;top:538.90px;width:28.65px;height:20.10px"><span style="top:0.050px">10</span></div>
<div class="c d s v" style="left:538.00px;top:538.90px;width:23.90px;height:20.10px"><span style="top:0.050px">0</span></div>
<div class="c d s v" style="left:564.20px;top:538.90px;width:23.60px;height:20.10px"><span style="top:0.050px">0</span></div>
<div class="c d s v" style="left:590.00px;top:538.90px;width:28.90px;height:20.10px"><span style="top:0.050px">0</span></div>
<div class="c d s v" style="left:621.15px;top:538.90px;width:28.75px;height:20.10px"><span style="top:0.050px">0</span></div>
<div class="c d s v" style="left:652.15px;top:538.90px;width:28.05px;height:20.10px"><span style="top:0.050px">0</span></div>
<div class="c d s v" style="left:682.20px;top:538.90px;width:30.60px;height:20.10px"><span style="top:0.050px">0</span></div>
<div class="c d n" style="left:100.00px;top:560.30px;width:61.90px;height:33.70px"><span style="top:-0.150px">St. Kitts and<br>Nevis</span></div>
<div class="c d v" style="left:163.80px;top:560.30px;width:29.10px;height:33.70px"><span style="top:-0.150px">60</span></div>
<div class="c d v" style="left:195.20px;top:560.30px;width:28.80px;height:33.70px"><span style="top:-0.150px">100</span></div>
<div class="c d v" style="left:226.20px;top:560.30px;width:27.60px;height:33.70px"><span style="top:-0.150px">130</span></div>
<div class="c d v" style="left:256.10px;top:560.30px;width:28.80px;height:33.70px"><span style="top:-0.150px">0</span></div>
<div class="c d v" style="left:287.20px;top:560.30px;width:33.70px;height:33.70px"><span style="top:-0.150px">0</span></div>
<div class="c d v" style="left:323.20px;top:560.30px;width:32.80px;height:33.70px"><span style="top:-0.150px">0</span></div>
<div class="c d v" style="left:358.10px;top:560.30px;width:28.60px;height:33.70px"><span style="top:-0.150px">2.2</span></div>
<div class="c d v" style="left:389.00px;top:560.30px;width:28.80px;height:33.70px"><span style="top:-0.150px">10</span></div>
<div class="c d v" style="left:420.10px;top:560.30px;width:27.75px;height:33.70px"><span style="top:-0.150px">30</span></div>
<div class="c d v" style="left:450.10px;top:560.30px;width:23.85px;height:33.70px"><span style="top:-0.150px">2</span></div>
<div class="c d v" style="left:476.20px;top:560.30px;width:28.65px;height:33.70px"><span style="top:-0.150px">10</span></div>
<div class="c d v" style="left:507.15px;top:560.30px;width:28.65px;height:33.70px"><span style="top:-0.150px">20</span></div>
<div class="c d v" style="left:538.00px;top:560.30px;width:23.90px;height:33.70px"><span style="top:-0.150px">0</span></div>
<div class="c d v" style="left:564.20px;top:560.30px;width:23.60px;height:33.70px"><span style="top:-0.150px">0</span></div>
<div class="c d v" style="left:590.00px;top:560.30px;width:28.90px;height:33.70px"><span style="top:-0.150px">0</span></div>
<div class="c d v" style="left:621.15px;top:560.30px;width:28.75px;height:33.70px"><span style="top:-0.150px">0</span></div>
<div class="c d v" style="left:652.15px;top:560.30px;width:28.05px;height:33.70px"><span style="top:-0.150px">0</span></div>
<div class="c d v" style="left:682.20px;top:560.30px;width:30.60px;height:33.70px"><span style="top:-0.150px">0</span></div>
<div class="c d s n" style="left:100.00px;top:595.80px;width:61.90px;height:31.10px"><span style="top:-0.350px">Antigua and<br>Barbuda</span></div>
<div class="c d s v" style="left:163.80px;top:595.80px;width:29.10px;height:31.10px"><span style="top:-0.350px">120</span></div>
<div class="c d s v" style="left:195.20px;top:595.80px;width:28.80px;height:31.10px"><span style="top:-0.350px">160</span></div>
<div class="c d s v" style="left:226.20px;top:595.80px;width:27.60px;height:31.10px"><span style="top:-0.350px">210</span></div>
<div class="c d s v" style="left:256.10px;top:595.80px;width:28.80px;height:31.10px"><span style="top:-0.350px">0</span></div>
<div class="c d s v" style="left:287.20px;top:595.80px;width:33.70px;height:31.10px"><span style="top:-0.350px">0</span></div>
<div class="c d s v" style="left:323.20px;top:595.80px;width:32.80px;height:31.10px"><span style="top:-0.350px">0</span></div>
<div class="c d s v" style="left:358.10px;top:595.80px;width:28.60px;height:31.10px"><span style="top:-0.350px">0</span></div>
<div class="c d s v" style="left:389.00px;top:595.80px;width:28.80px;height:31.10px"><span style="top:-0.350px">30</span></div>
<div class="c d s v" style="left:420.10px;top:595.80px;width:27.75px;height:31.10px"><span style="top:-0.350px">50</span></div>
<div class="c d s v" style="left:450.10px;top:595.80px;width:23.85px;height:31.10px"><span style="top:-0.350px">4</span></div>
<div class="c d s v" style="left:476.20px;top:595.80px;width:28.65px;height:31.10px"><span style="top:-0.350px">30</span></div>
<div class="c d s v" style="left:507.15px;top:595.80px;width:28.65px;height:31.10px"><span style="top:-0.350px">50</span></div>
<div class="c d s v" style="left:538.00px;top:595.80px;width:23.90px;height:31.10px"><span style="top:-0.350px">0</span></div>
<div class="c d s v" style="left:564.20px;top:595.80px;width:23.60px;height:31.10px"><span style="top:-0.350px">0</span></div>
<div class="c d s v" style="left:590.00px;top:595.80px;width:28.90px;height:31.10px"><span style="top:-0.350px">0</span></div>
<div class="c d s v" style="left:621.15px;top:595.80px;width:28.75px;height:31.10px"><span style="top:-0.350px">0</span></div>
<div class="c d s v" style="left:652.15px;top:595.80px;width:28.05px;height:31.10px"><span style="top:-0.350px">0</span></div>
<div class="c d s v" style="left:682.20px;top:595.80px;width:30.60px;height:31.10px"><span style="top:-0.350px">0</span></div>
<div class="c d n" style="left:100.00px;top:628.00px;width:61.90px;height:21.00px"><span style="top:0.500px">Montserrat</span></div>
<div class="c d v" style="left:163.80px;top:628.00px;width:29.10px;height:21.00px"><span style="top:0.500px">10</span></div>
<div class="c d v" style="left:195.20px;top:628.00px;width:28.80px;height:21.00px"><span style="top:0.500px">10</span></div>
<div class="c d v" style="left:226.20px;top:628.00px;width:27.60px;height:21.00px"><span style="top:0.500px">15</span></div>
<div class="c d v" style="left:256.10px;top:628.00px;width:28.80px;height:21.00px"><span style="top:0.500px">0</span></div>
<div class="c d v" style="left:287.20px;top:628.00px;width:33.70px;height:21.00px"><span style="top:0.500px">0</span></div>
<div class="c d v" style="left:323.20px;top:628.00px;width:32.80px;height:21.00px"><span style="top:0.500px">0</span></div>
<div class="c d v" style="left:358.10px;top:628.00px;width:28.60px;height:21.00px"><span style="top:0.500px">0</span></div>
<div class="c d v" style="left:389.00px;top:628.00px;width:28.80px;height:21.00px"><span style="top:0.500px">0</span></div>
<div class="c d v" style="left:420.10px;top:628.00px;width:27.75px;height:21.00px"><span style="top:0.500px">0</span></div>
<div class="c d v" style="left:450.10px;top:628.00px;width:23.85px;height:21.00px"><span style="top:0.500px">0</span></div>
<div class="c d v" style="left:476.20px;top:628.00px;width:28.65px;height:21.00px"><span style="top:0.500px">0</span></div>
<div class="c d v" style="left:507.15px;top:628.00px;width:28.65px;height:21.00px"><span style="top:0.500px">0</span></div>
<div class="c d v" style="left:538.00px;top:628.00px;width:23.90px;height:21.00px"><span style="top:0.500px">0</span></div>
<div class="c d v" style="left:564.20px;top:628.00px;width:23.60px;height:21.00px"><span style="top:0.500px">0</span></div>
<div class="c d v" style="left:590.00px;top:628.00px;width:28.90px;height:21.00px"><span style="top:0.500px">0</span></div>
<div class="c d v" style="left:621.15px;top:628.00px;width:28.75px;height:21.00px"><span style="top:0.500px">0</span></div>
<div class="c d v" style="left:652.15px;top:628.00px;width:28.05px;height:21.00px"><span style="top:0.500px">0</span></div>
<div class="c d v" style="left:682.20px;top:628.00px;width:30.60px;height:21.00px"><span style="top:0.500px">0</span></div>
<div class="c d s n" style="left:100.00px;top:650.40px;width:61.90px;height:19.20px"><span>Guadeloupe</span></div>
<div class="c d s v" style="left:163.80px;top:650.40px;width:29.10px;height:19.20px"><span>460</span></div>
<div class="c d s v" style="left:195.20px;top:650.40px;width:28.80px;height:19.20px"><span>620</span></div>
<div class="c d s v" style="left:226.20px;top:650.40px;width:27.60px;height:19.20px"><span>860</span></div>
<div class="c d s v" style="left:256.10px;top:650.40px;width:28.80px;height:19.20px"><span>10</span></div>
<div class="c d s v" style="left:287.20px;top:650.40px;width:33.70px;height:19.20px"><span>20</span></div>
<div class="c d s v" style="left:323.20px;top:650.40px;width:32.80px;height:19.20px"><span>30</span></div>
<div class="c d s v" style="left:358.10px;top:650.40px;width:28.60px;height:19.20px"><span>26</span></div>
<div class="c d s v" style="left:389.00px;top:650.40px;width:28.80px;height:19.20px"><span>60</span></div>
<div class="c d s v" style="left:420.10px;top:650.40px;width:27.75px;height:19.20px"><span>100</span></div>
<div class="c d s v" style="left:450.10px;top:650.40px;width:23.85px;height:19.20px"><span>67</span></div>
<div class="c d s v" style="left:476.20px;top:650.40px;width:28.65px;height:19.20px"><span>100</span></div>
<div class="c d s v" style="left:507.15px;top:650.40px;width:28.65px;height:19.20px"><span>140</span></div>
<div class="c d s v" style="left:538.00px;top:650.40px;width:23.90px;height:19.20px"><span>0</span></div>
<div class="c d s v" style="left:564.20px;top:650.40px;width:23.60px;height:19.20px"><span>0</span></div>
<div class="c d s v" style="left:590.00px;top:650.40px;width:28.90px;height:19.20px"><span>0</span></div>
<div class="c d s v" style="left:621.15px;top:650.40px;width:28.75px;height:19.20px"><span>30</span></div>
<div class="c d s v" style="left:652.15px;top:650.40px;width:28.05px;height:19.20px"><span>50</span></div>
<div class="c d s v" style="left:682.20px;top:650.40px;width:30.60px;height:19.20px"><span>70</span></div>
<div class="c d n" style="left:100.00px;top:671.00px;width:61.90px;height:21.00px"><span style="top:0.500px">Dominica</span></div>
<div class="c d v" style="left:163.80px;top:671.00px;width:29.10px;height:21.00px"><span style="top:0.500px">20</span></div>
<div class="c d v" style="left:195.20px;top:671.00px;width:28.80px;height:21.00px"><span style="top:0.500px">40</span></div>
<div class="c d v" style="left:226.20px;top:671.00px;width:27.60px;height:21.00px"><span style="top:0.500px">60</span></div>
<div class="c d v" style="left:256.10px;top:671.00px;width:28.80px;height:21.00px"><span style="top:0.500px">7</span></div>
<div class="c d v" style="left:287.20px;top:671.00px;width:33.70px;height:21.00px"><span style="top:0.500px">20</span></div>
<div class="c d v" style="left:323.20px;top:671.00px;width:32.80px;height:21.00px"><span style="top:0.500px">40</span></div>
<div class="c d v" style="left:358.10px;top:671.00px;width:28.60px;height:21.00px"><span style="top:0.500px">0.2</span></div>
<div class="c d v" style="left:389.00px;top:671.00px;width:28.80px;height:21.00px"><span style="top:0.500px">10</span></div>
<div class="c d v" style="left:420.10px;top:671.00px;width:27.75px;height:21.00px"><span style="top:0.500px">20</span></div>
<div class="c d v" style="left:450.10px;top:671.00px;width:23.85px;height:21.00px"><span style="top:0.500px">0.6</span></div>
<div class="c d v" style="left:476.20px;top:671.00px;width:28.65px;height:21.00px"><span style="top:0.500px">10</span></div>
<div class="c d v" style="left:507.15px;top:671.00px;width:28.65px;height:21.00px"><span style="top:0.500px">20</span></div>
<div class="c d v" style="left:538.00px;top:671.00px;width:23.90px;height:21.00px"><span style="top:0.500px">0</span></div>
<div class="c d v" style="left:564.20px;top:671.00px;width:23.60px;height:21.00px"><span style="top:0.500px">0</span></div>
<div class="c d v" style="left:590.00px;top:671.00px;width:28.90px;height:21.00px"><span style="top:0.500px">0</span></div>
<div class="c d v" style="left:621.15px;top:671.00px;width:28.75px;height:21.00px"><span style="top:0.500px">0</span></div>
<div class="c d v" style="left:652.15px;top:671.00px;width:28.05px;height:21.00px"><span style="top:0.500px">0</span></div>
<div class="c d v" style="left:682.20px;top:671.00px;width:30.60px;height:21.00px"><span style="top:0.500px">0</span></div>
<div class="c d s n" style="left:100.00px;top:693.20px;width:61.90px;height:20.10px"><span style="top:-0.250px">Martinique</span></div>
<div class="c d s v" style="left:163.80px;top:693.20px;width:29.10px;height:20.10px"><span style="top:-0.250px">430</span></div>
<div class="c d s v" style="left:195.20px;top:693.20px;width:28.80px;height:20.10px"><span style="top:-0.250px">630</span></div>
<div class="c d s v" style="left:226.20px;top:693.20px;width:27.60px;height:20.10px"><span style="top:-0.250px">760</span></div>
<div class="c d s v" style="left:256.10px;top:693.20px;width:28.80px;height:20.10px"><span style="top:-0.250px">0</span></div>
<div class="c d s v" style="left:287.20px;top:693.20px;width:33.70px;height:20.10px"><span style="top:-0.250px">0</span></div>
<div class="c d s v" style="left:323.20px;top:693.20px;width:32.80px;height:20.10px"><span style="top:-0.250px">0</span></div>
<div class="c d s v" style="left:358.10px;top:693.20px;width:28.60px;height:20.10px"><span style="top:-0.250px">1.1</span></div>
<div class="c d s v" style="left:389.00px;top:693.20px;width:28.80px;height:20.10px"><span style="top:-0.250px">80</span></div>
<div class="c d s v" style="left:420.10px;top:693.20px;width:27.75px;height:20.10px"><span style="top:-0.250px">100</span></div>
<div class="c d s v" style="left:450.10px;top:693.20px;width:23.85px;height:20.10px"><span style="top:-0.250px">67</span></div>
<div class="c d s v" style="left:476.20px;top:693.20px;width:28.65px;height:20.10px"><span style="top:-0.250px">110</span></div>
<div class="c d s v" style="left:507.15px;top:693.20px;width:28.65px;height:20.10px"><span style="top:-0.250px">130</span></div>
<div class="c d s v" style="left:538.00px;top:693.20px;width:23.90px;height:20.10px"><span style="top:-0.250px">0</span></div>
<div class="c d s v" style="left:564.20px;top:693.20px;width:23.60px;height:20.10px"><span style="top:-0.250px">0</span></div>
<div class="c d s v" style="left:590.00px;top:693.20px;width:28.90px;height:20.10px"><span style="top:-0.250px">0</span></div>
<div class="c d s v" style="left:621.15px;top:693.20px;width:28.75px;height:20.10px"><span style="top:-0.250px">5</span></div>
<div class="c d s v" style="left:652.15px;top:693.20px;width:28.05px;height:20.10px"><span style="top:-0.250px">70</span></div>
<div class="c d s v" style="left:682.20px;top:693.20px;width:30.60px;height:20.10px"><span style="top:-0.250px">90</span></div>
<div class="c d n" style="left:100.00px;top:714.60px;width:61.90px;height:20.00px"><span style="top:0.400px">St. Lucia</span></div>
<div class="c d v" style="left:163.80px;top:714.60px;width:29.10px;height:20.00px"><span style="top:0.400px">90</span></div>
<div class="c d v" style="left:195.20px;top:714.60px;width:28.80px;height:20.00px"><span style="top:0.400px">110</span></div>
<div class="c d v" style="left:226.20px;top:714.60px;width:27.60px;height:20.00px"><span style="top:0.400px">150</span></div>
<div class="c d v" style="left:256.10px;top:714.60px;width:28.80px;height:20.00px"><span style="top:0.400px">0</span></div>
<div class="c d v" style="left:287.20px;top:714.60px;width:33.70px;height:20.00px"><span style="top:0.400px">0</span></div>
<div class="c d v" style="left:323.20px;top:714.60px;width:32.80px;height:20.00px"><span style="top:0.400px">0</span></div>
<div class="c d v" style="left:358.10px;top:714.60px;width:28.60px;height:20.00px"><span style="top:0.400px">0</span></div>
<div class="c d v" style="left:389.00px;top:714.60px;width:28.80px;height:20.00px"><span style="top:0.400px">60</span></div>
<div class="c d v" style="left:420.10px;top:714.60px;width:27.75px;height:20.00px"><span style="top:0.400px">80</span></div>
<div class="c d v" style="left:450.10px;top:714.60px;width:23.85px;height:20.00px"><span style="top:0.400px">1</span></div>
<div class="c d v" style="left:476.20px;top:714.60px;width:28.65px;height:20.00px"><span style="top:0.400px">80</span></div>
<div class="c d v" style="left:507.15px;top:714.60px;width:28.65px;height:20.00px"><span style="top:0.400px">120</span></div>
<div class="c d v" style="left:538.00px;top:714.60px;width:23.90px;height:20.00px"><span style="top:0.400px">0</span></div>
<div class="c d v" style="left:564.20px;top:714.60px;width:23.60px;height:20.00px"><span style="top:0.400px">0</span></div>
<div class="c d v" style="left:590.00px;top:714.60px;width:28.90px;height:20.00px"><span style="top:0.400px">0</span></div>
<div class="c d v" style="left:621.15px;top:714.60px;width:28.75px;height:20.00px"><span style="top:0.400px">0</span></div>
<div class="c d v" style="left:652.15px;top:714.60px;width:28.05px;height:20.00px"><span style="top:0.400px">0</span></div>
<div class="c d v" style="left:682.20px;top:714.60px;width:30.60px;height:20.00px"><span style="top:0.400px">0</span></div>
<div class="c d s n" style="left:100.00px;top:735.90px;width:61.90px;height:32.60px"><span style="top:0.800px">St.Vincent and<br>Grenadines</span></div>
<div class="c d s v" style="left:163.80px;top:735.90px;width:29.10px;height:32.60px"><span style="top:0.800px">50</span></div>
<div class="c d s v" style="left:195.20px;top:735.90px;width:28.80px;height:32.60px"><span style="top:0.800px">70</span></div>
<div class="c d s v" style="left:226.20px;top:735.90px;width:27.60px;height:32.60px"><span style="top:0.800px">90</span></div>
<div class="c d s v" style="left:256.10px;top:735.90px;width:28.80px;height:32.60px"><span style="top:0.800px">7</span></div>
<div class="c d s v" style="left:287.20px;top:735.90px;width:33.70px;height:32.60px"><span style="top:0.800px">20</span></div>
<div class="c d s v" style="left:323.20px;top:735.90px;width:32.80px;height:32.60px"><span style="top:0.800px">30</span></div>
<div class="c d s v" style="left:358.10px;top:735.90px;width:28.60px;height:32.60px"><span style="top:0.800px">0</span></div>
<div class="c d s v" style="left:389.00px;top:735.90px;width:28.80px;height:32.60px"><span style="top:0.800px">0</span></div>
<div class="c d s v" style="left:420.10px;top:735.90px;width:27.75px;height:32.60px"><span style="top:0.800px">10</span></div>
<div class="c d s v" style="left:450.10px;top:735.90px;width:23.85px;height:32.60px"><span style="top:0.800px">1</span></div>
<div class="c d s v" style="left:476.20px;top:735.90px;width:28.65px;height:32.60px"><span style="top:0.800px">10</span></div>
<div class="c d s v" style="left:507.15px;top:735.90px;width:28.65px;height:32.60px"><span style="top:0.800px">10</span></div>
<div class="c d s v" style="left:538.00px;top:735.90px;width:23.90px;height:32.60px"><span style="top:0.800px">0</span></div>
<div class="c d s v" style="left:564.20px;top:735.90px;width:23.60px;height:32.60px"><span style="top:0.800px">0</span></div>
<div class="c d s v" style="left:590.00px;top:735.90px;width:28.90px;height:32.60px"><span style="top:0.800px">0</span></div>
<div class="c d s v" style="left:621.15px;top:735.90px;width:28.75px;height:32.60px"><span style="top:0.800px">0</span></div>
<div class="c d s v" style="left:652.15px;top:735.90px;width:28.05px;height:32.60px"><span style="top:0.800px">0</span></div>
<div class="c d s v" style="left:682.20px;top:735.90px;width:30.60px;height:32.60px"><span style="top:0.800px">0</span></div>
<div class="c d n" style="left:100.00px;top:770.00px;width:61.90px;height:20.60px"><span style="top:-0.300px">Grenada</span></div>
<div class="c d v" style="left:163.80px;top:770.00px;width:29.10px;height:20.60px"><span style="top:-0.300px">50</span></div>
<div class="c d v" style="left:195.20px;top:770.00px;width:28.80px;height:20.60px"><span style="top:-0.300px">100</span></div>
<div class="c d v" style="left:226.20px;top:770.00px;width:27.60px;height:20.60px"><span style="top:-0.300px">140</span></div>
<div class="c d v" style="left:256.10px;top:770.00px;width:28.80px;height:20.60px"><span style="top:-0.300px">0</span></div>
<div class="c d v" style="left:287.20px;top:770.00px;width:33.70px;height:20.60px"><span style="top:-0.300px">0</span></div>
<div class="c d v" style="left:323.20px;top:770.00px;width:32.80px;height:20.60px"><span style="top:-0.300px">0</span></div>
<div class="c d v" style="left:358.10px;top:770.00px;width:28.60px;height:20.60px"><span style="top:-0.300px">0.1</span></div>
<div class="c d v" style="left:389.00px;top:770.00px;width:28.80px;height:20.60px"><span style="top:-0.300px">80</span></div>
<div class="c d v" style="left:420.10px;top:770.00px;width:27.75px;height:20.60px"><span style="top:-0.300px">110</span></div>
<div class="c d v" style="left:450.10px;top:770.00px;width:23.85px;height:20.60px"><span style="top:-0.300px">2</span></div>
<div class="c d v" style="left:476.20px;top:770.00px;width:28.65px;height:20.60px"><span style="top:-0.300px">50</span></div>
<div class="c d v" style="left:507.15px;top:770.00px;width:28.65px;height:20.60px"><span style="top:-0.300px">80</span></div>
<div class="c d v" style="left:538.00px;top:770.00px;width:23.90px;height:20.60px"><span style="top:-0.300px">0</span></div>
<div class="c d v" style="left:564.20px;top:770.00px;width:23.60px;height:20.60px"><span style="top:-0.300px">0</span></div>
<div class="c d v" style="left:590.00px;top:770.00px;width:28.90px;height:20.60px"><span style="top:-0.300px">0</span></div>
<div class="c d v" style="left:621.15px;top:770.00px;width:28.75px;height:20.60px"><span style="top:-0.300px">0</span></div>
<div class="c d v" style="left:652.15px;top:770.00px;width:28.05px;height:20.60px"><span style="top:-0.300px">0</span></div>
<div class="c d v" style="left:682.20px;top:770.00px;width:30.60px;height:20.60px"><span style="top:-0.300px">0</span></div>
<div class="c d s n" style="left:100.00px;top:792.00px;width:61.90px;height:19.40px"><span style="top:0.300px">Barbados</span></div>
<div class="c d s v" style="left:163.80px;top:792.00px;width:29.10px;height:19.40px"><span style="top:0.300px">250</span></div>
<div class="c d s v" style="left:195.20px;top:792.00px;width:28.80px;height:19.40px"><span style="top:0.300px">310</span></div>
<div class="c d s v" style="left:226.20px;top:792.00px;width:27.60px;height:19.40px"><span style="top:0.300px">420</span></div>
<div class="c d s v" style="left:256.10px;top:792.00px;width:28.80px;height:19.40px"><span style="top:0.300px">0</span></div>
<div class="c d s v" style="left:287.20px;top:792.00px;width:33.70px;height:19.40px"><span style="top:0.300px">0</span></div>
<div class="c d s v" style="left:323.20px;top:792.00px;width:32.80px;height:19.40px"><span style="top:0.300px">0</span></div>
<div class="c d s v" style="left:358.10px;top:792.00px;width:28.60px;height:19.40px"><span style="top:0.300px">0</span></div>
<div class="c d s v" style="left:389.00px;top:792.00px;width:28.80px;height:19.40px"><span style="top:0.300px">160</span></div>
<div class="c d s v" style="left:420.10px;top:792.00px;width:27.75px;height:19.40px"><span style="top:0.300px">250</span></div>
<div class="c d s v" style="left:450.10px;top:792.00px;width:23.85px;height:19.40px"><span style="top:0.300px">20</span></div>
<div class="c d s v" style="left:476.20px;top:792.00px;width:28.65px;height:19.40px"><span style="top:0.300px">200</span></div>
<div class="c d s v" style="left:507.15px;top:792.00px;width:28.65px;height:19.40px"><span style="top:0.300px">290</span></div>
<div class="c d s v" style="left:538.00px;top:792.00px;width:23.90px;height:19.40px"><span style="top:0.300px">0</span></div>
<div class="c d s v" style="left:564.20px;top:792.00px;width:23.60px;height:19.40px"><span style="top:0.300px">0</span></div>
<div class="c d s v" style="left:590.00px;top:792.00px;width:28.90px;height:19.40px"><span style="top:0.300px">0</span></div>
<div class="c d s v" style="left:621.15px;top:792.00px;width:28.75px;height:19.40px"><span style="top:0.300px">0</span></div>
<div class="c d s v" style="left:652.15px;top:792.00px;width:28.05px;height:19.40px"><span style="top:0.300px">0</span></div>
<div class="c d s v" style="left:682.20px;top:792.00px;width:30.60px;height:19.40px"><span style="top:0.300px">0</span></div>
<div class="c d n" style="left:100.00px;top:812.80px;width:61.90px;height:33.20px"><span style="top:0.600px">Trinidad and<br>Tobago</span></div>
<div class="c d v" style="left:163.80px;top:812.80px;width:29.10px;height:33.20px"><span style="top:0.600px">2600</span></div>
<div class="c d v" style="left:195.20px;top:812.80px;width:28.80px;height:33.20px"><span style="top:0.600px">4010</span></div>
<div class="c d v" style="left:226.20px;top:812.80px;width:27.60px;height:33.20px"><span style="top:0.600px">4800</span></div>
<div class="c d v" style="left:256.10px;top:812.80px;width:28.80px;height:33.20px"><span style="top:0.600px">0</span></div>
<div class="c d v" style="left:287.20px;top:812.80px;width:33.70px;height:33.20px"><span style="top:0.600px">0</span></div>
<div class="c d v" style="left:323.20px;top:812.80px;width:32.80px;height:33.20px"><span style="top:0.600px">0</span></div>
<div class="c d v" style="left:358.10px;top:812.80px;width:28.60px;height:33.20px"><span style="top:0.600px">0</span></div>
<div class="c d v" style="left:389.00px;top:812.80px;width:28.80px;height:33.20px"><span style="top:0.600px">1150</span></div>
<div class="c d v" style="left:420.10px;top:812.80px;width:27.75px;height:33.20px"><span style="top:0.600px">1610</span></div>
<div class="c d v" style="left:450.10px;top:812.80px;width:23.85px;height:33.20px"><span style="top:0.600px">3</span></div>
<div class="c d v" style="left:476.20px;top:812.80px;width:28.65px;height:33.20px"><span style="top:0.600px">1190</span></div>
<div class="c d v" style="left:507.15px;top:812.80px;width:28.65px;height:33.20px"><span style="top:0.600px">1640</span></div>
<div class="c d v" style="left:538.00px;top:812.80px;width:23.90px;height:33.20px"><span style="top:0.600px">0</span></div>
<div class="c d v" style="left:564.20px;top:812.80px;width:23.60px;height:33.20px"><span style="top:0.600px">0</span></div>
<div class="c d v" style="left:590.00px;top:812.80px;width:28.90px;height:33.20px"><span style="top:0.600px">0</span></div>
<div class="c d v" style="left:621.15px;top:812.80px;width:28.75px;height:33.20px"><span style="top:0.600px">5</span></div>
<div class="c d v" style="left:652.15px;top:812.80px;width:28.05px;height:33.20px"><span style="top:0.600px">1020</span></div>
<div class="c d v" style="left:682.20px;top:812.80px;width:30.60px;height:33.20px"><span style="top:0.600px">1460</span></div>
<div class="c d s n" style="left:100.00px;top:847.20px;width:61.90px;height:20.00px"><span style="top:-0.200px">Aruba</span></div>
<div class="c d s v" style="left:163.80px;top:847.20px;width:29.10px;height:20.00px"><span style="top:-0.200px">260</span></div>
<div class="c d s v" style="left:195.20px;top:847.20px;width:28.80px;height:20.00px"><span style="top:-0.200px">200</span></div>
<div class="c d s v" style="left:226.20px;top:847.20px;width:27.60px;height:20.00px"><span style="top:-0.200px">260</span></div>
<div class="c d s v" style="left:256.10px;top:847.20px;width:28.80px;height:20.00px"><span style="top:-0.200px">0</span></div>
<div class="c d s v" style="left:287.20px;top:847.20px;width:33.70px;height:20.00px"><span style="top:-0.200px">0</span></div>
<div class="c d s v" style="left:323.20px;top:847.20px;width:32.80px;height:20.00px"><span style="top:-0.200px">0</span></div>
<div class="c d s v" style="left:358.10px;top:847.20px;width:28.60px;height:20.00px"><span style="top:-0.200px">30</span></div>
<div class="c d s v" style="left:389.00px;top:847.20px;width:28.80px;height:20.00px"><span style="top:-0.200px">160</span></div>
<div class="c d s v" style="left:420.10px;top:847.20px;width:27.75px;height:20.00px"><span style="top:-0.200px">230</span></div>
<div class="c d s v" style="left:450.10px;top:847.20px;width:23.85px;height:20.00px"><span style="top:-0.200px">6</span></div>
<div class="c d s v" style="left:476.20px;top:847.20px;width:28.65px;height:20.00px"><span style="top:-0.200px">110</span></div>
<div class="c d s v" style="left:507.15px;top:847.20px;width:28.65px;height:20.00px"><span style="top:-0.200px">180</span></div>
<div class="c d s v" style="left:538.00px;top:847.20px;width:23.90px;height:20.00px"><span style="top:-0.200px">0</span></div>
<div class="c d s v" style="left:564.20px;top:847.20px;width:23.60px;height:20.00px"><span style="top:-0.200px">0</span></div>
<div class="c d s v" style="left:590.00px;top:847.20px;width:28.90px;height:20.00px"><span style="top:-0.200px">0</span></div>
<div class="c d s v" style="left:621.15px;top:847.20px;width:28.75px;height:20.00px"><span style="top:-0.200px">2</span></div>
<div class="c d s v" style="left:652.15px;top:847.20px;width:28.05px;height:20.00px"><span style="top:-0.200px">180</span></div>
<div class="c d s v" style="left:682.20px;top:847.20px;width:30.60px;height:20.00px"><span style="top:-0.200px">260</span></div>
<div class="note"><span>Note: data for 2016 is from the U.S Energy Information Agency (EIA).</span></div>
</body></html>
